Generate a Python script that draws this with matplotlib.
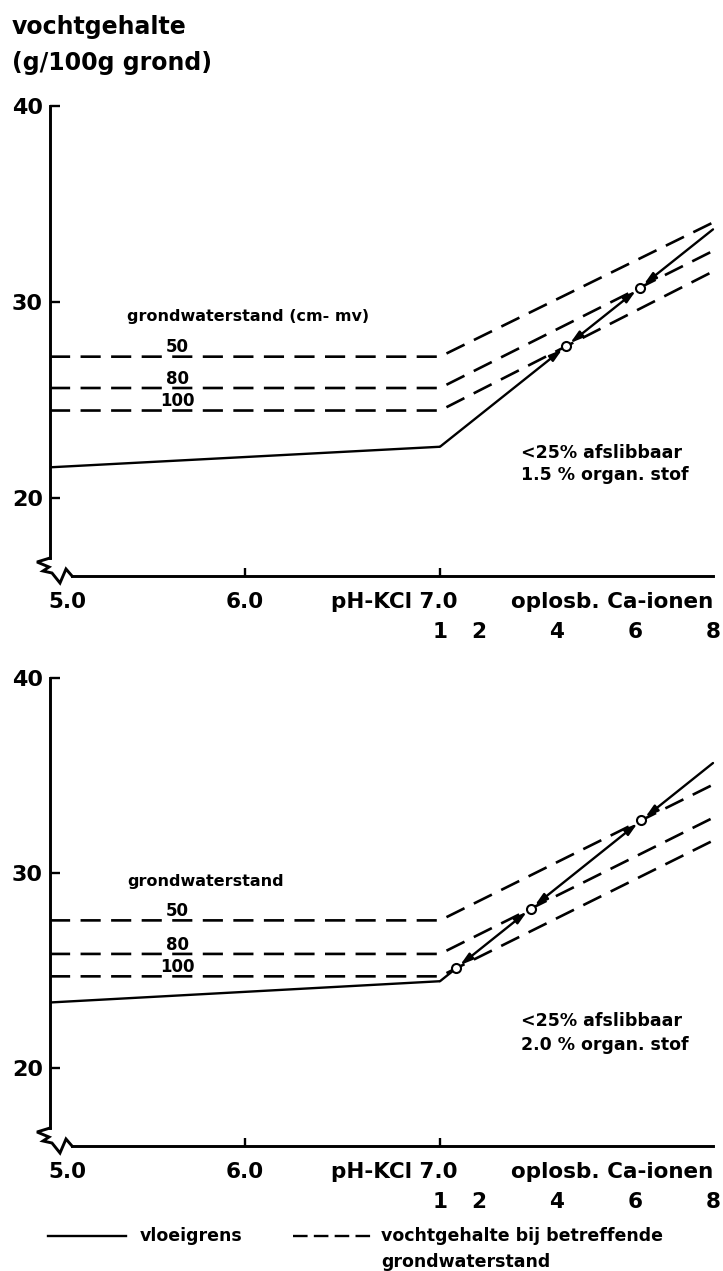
import numpy as np
import matplotlib
matplotlib.use('Agg')
import matplotlib.pyplot as plt
import matplotlib.transforms as mtransforms
from matplotlib.lines import Line2D

plt.rcParams['font.family'] = ['DejaVu Sans']
plt.rcParams['font.weight'] = 'bold'
plt.rcParams['lines.scale_dashes'] = False

W, H = 723, 1271

# x positions: pH for the left part, Ca-ions for the right part
ph_bend = [5.0, 7.0]
ca_range = [1, 8]
ca_ticks = [1, 2, 4, 6, 8]
gws_names = ['50', '80', '100']

# top panel: <25% afslibbaar, 1.5% organische stof
top_vloei = [21.55, 22.6, 33.7]          # pH 5.0, pH 7.0 (= Ca 1), Ca 8
top_gws_flat = [27.2, 25.6, 24.45]      # pH 5.0 - 7.0
top_gws_end = [34.05, 32.6, 31.55]      # Ca 8

# bottom panel: <25% afslibbaar, 2.0% organische stof
bot_vloei = [23.36, 24.45, 35.64]
bot_gws_flat = [27.57, 25.85, 24.7]
bot_gws_end = [34.53, 32.83, 31.66]

CA_STEP = 0.2  # pH units per Ca unit on the shared axis


def ca_to_x(ca):
    return ph_bend[1] + (np.asarray(ca, dtype=float) - ca_range[0]) * CA_STEP


def fx(px):
    return px / W


def fy(py):
    return 1 - py / H


def crossing(a0, a1, b0, b1):
    """Ca value where two straight lines (given at Ca 1 and Ca 8) cross"""
    t = (b0 - a0) / ((a1 - a0) - (b1 - b0))
    ca = ca_range[0] + t * (ca_range[1] - ca_range[0])
    return ca, a0 + t * (a1 - a0)


def draw_panel(ax, vloei, gws_flat, gws_end, gws_title, title_y, note, note_y):
    ax.set_xlim(5.0, ca_to_x(ca_range[1]))
    ax.set_ylim(16, 40)

    # dashed lines: vochtgehalte bij grondwaterstand
    for flat, end, name in zip(gws_flat, gws_end, gws_names):
        xs = [ph_bend[0], ph_bend[1], float(ca_to_x(ca_range[1]))]
        ax.plot(xs, [flat, flat, end], color='k', lw=1.9, dashes=(14.5, 7.5),
                solid_capstyle='butt', dash_capstyle='butt', clip_on=False)
        ax.annotate(name, xy=(5.655, flat), xytext=(0, 3), textcoords='offset points',
                    ha='center', va='baseline', fontsize=12)

    # solid line: vloeigrens
    ax.plot(ph_bend, vloei[:2], color='k', lw=1.7, solid_capstyle='butt')

    # crossings of vloeigrens with the dashed lines
    pts = []
    for flat, end in zip(gws_flat, gws_end):
        ca, v = crossing(vloei[1], vloei[2], flat, end)
        if ca_range[0] < ca < ca_range[1]:
            pts.append((ca, v))
    pts.sort()

    nodes = [(ca_range[0], vloei[1], False)] + [(c, v, True) for c, v in pts] + \
            [(ca_range[1], vloei[2], False)]
    r = 3.6
    for (c0, v0, circ0), (c1, v1, circ1) in zip(nodes[:-1], nodes[1:]):
        short = (c1 - c0) < 0.5
        if circ0 and circ1:
            style = '<|-|>'
        elif circ1 and not short:
            style = '-|>'
        elif circ0 and not short:
            style = '<|-'
        else:
            style = '-'
        if style != '-':
            style += ',head_length=0.75,head_width=0.22'
        ax.annotate('', xy=(float(ca_to_x(c1)), v1), xytext=(float(ca_to_x(c0)), v0),
                    arrowprops=dict(arrowstyle=style, color='k', lw=1.7,
                                    shrinkA=r if circ0 else 0, shrinkB=r if circ1 else 0,
                                    mutation_scale=10), annotation_clip=False)

    cx = ca_to_x([p[0] for p in pts])
    cy = [p[1] for p in pts]
    ax.plot(cx, cy, 'o', ms=6.5, mfc='white', mec='k', mew=1.5, zorder=5, clip_on=False)

    # texts inside the panel
    ax.text(5.395, title_y, gws_title, ha='left', va='center', fontsize=11.5)
    ax.text(7.415, note_y[0], note[0], ha='left', va='center', fontsize=12.5)
    ax.text(7.415, note_y[1], note[1], ha='left', va='center', fontsize=12.5)

    # axes look
    for side in ['top', 'right']:
        ax.spines[side].set_visible(False)
    for side in ['left', 'bottom']:
        ax.spines[side].set_linewidth(2.1)
    ax.spines['left'].set_bounds(16.9, 40)
    ax.spines['bottom'].set_bounds(5.0 + 22 / 195, ca_to_x(ca_range[1]))

    ax.set_yticks([20, 30, 40])
    ax.tick_params(axis='y', direction='in', length=7, width=1.7, pad=5, labelsize=16)
    ax.set_xticks([6.0, 7.0])
    ax.set_xticklabels([])
    ax.tick_params(axis='x', direction='in', length=6, width=1.7)

    # break sign at the origin (offsets in pixels)
    brk_px = [(0, 18), (-13, 14), (-1, 9), (-7, 5), (2, 3), (10, -7), (16, 7), (22, 0)]
    trans = ax.figure.dpi_scale_trans + mtransforms.ScaledTranslation(5.0, 16.0, ax.transData)
    ax.plot([p[0] / 100 for p in brk_px], [p[1] / 100 for p in brk_px], color='k', lw=2.1,
            transform=trans, clip_on=False, solid_joinstyle='miter')

    # x labels: pH and Ca scale
    xt = ax.get_xaxis_transform()
    lab = dict(xycoords=xt, textcoords='offset points', va='center', fontsize=15.5)
    ax.annotate('5.0', xy=(5.0, 0), xytext=(-1.5, -18.7), ha='left', **lab)
    ax.annotate('6.0', xy=(6.0, 0), xytext=(0, -18.7), ha='center', **lab)
    ax.annotate('pH-KCl 7.0', xy=(7.0, 0), xytext=(12.5, -18.7), ha='right', **lab)
    ax.annotate('oplosb. Ca-ionen', xy=(float(ca_to_x(ca_range[1])), 0), xytext=(0, -18.7),
                ha='right', **lab)
    for c in ca_ticks:
        ax.annotate(str(c), xy=(float(ca_to_x(c)), 0), xytext=(0, -40.5), ha='center', **lab)


fig = plt.figure(figsize=(W / 100, H / 100), dpi=100)
ax1 = fig.add_axes([fx(50), fy(576), fx(663), 470 / H])
ax2 = fig.add_axes([fx(50), fy(1146), fx(663), 468 / H])

draw_panel(ax1, top_vloei, top_gws_flat, top_gws_end, 'grondwaterstand (cm- mv)', 29.27,
           ['<25% afslibbaar', '1.5 % organ. stof'], [22.28, 21.15])
draw_panel(ax2, bot_vloei, bot_gws_flat, bot_gws_end, 'grondwaterstand', 29.54,
           ['<25% afslibbaar', '2.0 % organ. stof'], [22.41, 21.19])

# y axis title
fig.text(fx(12), fy(27), 'vochtgehalte', ha='left', va='center', fontsize=17)
fig.text(fx(12), fy(63), '(g/100g grond)', ha='left', va='center', fontsize=17)

# legend
fig.add_artist(Line2D([fx(48), fx(126)], [fy(1236), fy(1236)], color='k', lw=1.7,
                      transform=fig.transFigure))
fig.add_artist(Line2D([fx(293), fx(374)], [fy(1236), fy(1236)], color='k', lw=1.7,
                      dashes=(10.5, 4.5), transform=fig.transFigure))
fig.text(fx(140), fy(1236), 'vloeigrens', ha='left', va='center', fontsize=12.5)
fig.text(fx(381), fy(1236), 'vochtgehalte bij betreffende', ha='left', va='center', fontsize=12.5)
fig.text(fx(381), fy(1262), 'grondwaterstand', ha='left', va='center', fontsize=12.5)

fig.savefig('out.png', dpi=100)
